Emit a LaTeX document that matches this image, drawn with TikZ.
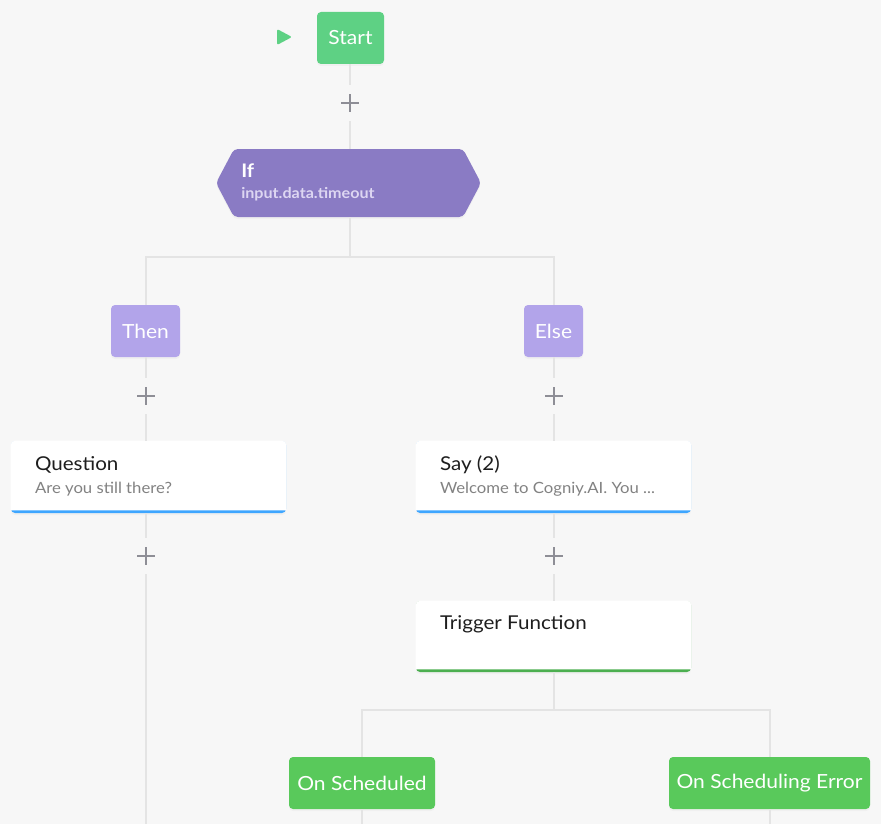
\documentclass[tikz,border=0pt]{standalone}
\usepackage{fontspec}
\setmainfont{Lato}[FakeStretch=1.08]
\usetikzlibrary{calc,shadows}
\definecolor{bg}{HTML}{F7F7F7}
\definecolor{wire}{HTML}{E4E4E4}
\definecolor{plusgray}{HTML}{8E8E96}
\definecolor{startgreen}{HTML}{5ED184}
\definecolor{evgreen}{HTML}{59C95B}
\definecolor{fngreen}{HTML}{4CAF50}
\definecolor{ifpurple}{HTML}{8A7BC4}
\definecolor{ifsub}{HTML}{DDD6F2}
\definecolor{branchpurple}{HTML}{B2A4EA}
\definecolor{sayblue}{HTML}{3EA6FF}
\definecolor{titletext}{HTML}{1E1E1E}
\definecolor{subtext}{HTML}{828282}
\begin{document}
\begin{tikzpicture}[x=0.75pt,y=-0.75pt,
  wireline/.style={draw=wire,line width=1.5pt},
  softshadow/.style={drop shadow={opacity=0.06,shadow xshift=0pt,shadow yshift=-1.5pt}},
  pill/.style={rounded corners=3pt,text=white,inner sep=0pt,font=\fontsize{14.6}{17}\selectfont,softshadow},
  startbox/.style={pill,fill=startgreen,minimum width=50.25pt,minimum height=39pt},
  branchbox/.style={pill,fill=branchpurple,minimum height=39pt},
  eventbox/.style={pill,fill=evgreen,minimum height=39pt},
  card/.style={rounded corners=3pt,minimum width=206.25pt,minimum height=54pt,inner sep=0pt,softshadow},
  cardtitle/.style={anchor=west,text=titletext,inner sep=0pt,font=\fontsize{14.3}{16}\selectfont},
  cardsub/.style={anchor=west,text=subtext,inner sep=0pt,font=\fontsize{11.6}{14}\selectfont},
  plusnode/.style={minimum width=20pt,minimum height=27pt,inner sep=0pt,
    path picture={\draw[plusgray,line width=1.4pt]
      ($(path picture bounding box.center)+(-9,0)$) -- ($(path picture bounding box.center)+(9,0)$)
      ($(path picture bounding box.center)+(0,-9)$) -- ($(path picture bounding box.center)+(0,9)$);}},
]
% canvas
\fill[bg] (0,0) rectangle (881,824);
\useasboundingbox (0,0) rectangle (881,824);

% fork points and open ends of the flow lines
\coordinate (forkA) at (350,257);
\coordinate (forkB) at (554,710);
\coordinate (endQ) at (146,824);
\coordinate (endS) at (362,824);
\coordinate (endE) at (770,824);

% start
\node[startbox] (start) at (350.5,38) {Start};
\fill[startgreen,rounded corners=1.5pt] (277,29) -- (292,37) -- (277,45) -- cycle;

\node[plusnode] (p1) at (350,103) {};

% if block (hexagon)
\node[minimum width=198.75pt,minimum height=51pt,inner sep=0pt] (if) at (348.5,183) {};
\fill[ifpurple,rounded corners=3pt,softshadow]
  (216,183) -- (234,149) -- (463,149) -- (481,183) -- (463,217) -- (234,217) -- cycle;
\node[anchor=west,text=white,inner sep=0pt,font=\bfseries\fontsize{14}{16}\selectfont] (iftitle) at (241,171) {If};
\node[anchor=west,text=ifsub,inner sep=0pt,font=\bfseries\fontsize{11.2}{13}\selectfont] (ifsubtitle) at (241,194) {input.data.timeout};

% branches
\node[branchbox,minimum width=51.75pt] (then) at (145.5,331) {Then};
\node[branchbox,minimum width=44.25pt] (else) at (553.5,331) {Else};

\node[plusnode] (p2) at (146,396) {};
\node[plusnode] (p3) at (554,396) {};

% question card
\node[card,fill=sayblue] (question) at (148.5,477) {};
\fill[white,rounded corners=3pt] (question.north west) -- (question.north east) -- ($(question.south east)+(0,-3)$)
  [sharp corners] -- ($(question.south east)+(0,-3)$) -- ($(question.south west)+(0,-3)$) [rounded corners=3pt] -- cycle;
\node[cardtitle] (qtitle) at ($(question.west)+(24,-12)$) {Question};
\node[cardsub] (qsub) at ($(question.west)+(24,12)$) {Are you still there?};

% say card
\node[card,fill=sayblue] (say) at (553.5,477) {};
\fill[white,rounded corners=3pt] (say.north west) -- (say.north east) -- ($(say.south east)+(0,-3)$)
  [sharp corners] -- ($(say.south east)+(0,-3)$) -- ($(say.south west)+(0,-3)$) [rounded corners=3pt] -- cycle;
\node[cardtitle] (stitle) at ($(say.west)+(24,-12)$) {Say (2)};
\node[cardsub] (ssub) at ($(say.west)+(24,12)$) {Welcome to Cogniy.AI. You ...};

\node[plusnode] (p4) at (146,556) {};
\node[plusnode] (p5) at (554,556) {};

% trigger function card
\node[card,fill=fngreen,minimum height=53.25pt] (trigger) at (553.5,636.5) {};
\fill[white,rounded corners=3pt] (trigger.north west) -- (trigger.north east) -- ($(trigger.south east)+(0,-3)$)
  [sharp corners] -- ($(trigger.south east)+(0,-3)$) -- ($(trigger.south west)+(0,-3)$) [rounded corners=3pt] -- cycle;
\node[cardtitle] (ttitle) at ($(trigger.north west)+(24,24)$) {Trigger Function};

% trigger outcomes
\node[eventbox,minimum width=109.5pt] (onsched) at (362,783) {On Scheduled};
\node[eventbox,minimum width=150.75pt] (onerr) at (769.5,783) {On Scheduling Error};

% flow lines, kept vertical along each column
\path[wireline]
  (start.south -| p1) -- (p1.north)
  (p1.south) -- (p1.south |- if.north)
  (forkA |- if.south) -- (forkA)
  (forkA) -| (p2.center |- then.north)
  (forkA) -| (p3.center |- else.north)
  (p2.center |- then.south) -- (p2.north)
  (p2.south) -- (p2.south |- question.north)
  (p3.center |- else.south) -- (p3.north)
  (p3.south) -- (p3.south |- say.north)
  (p4.center |- question.south) -- (p4.north)
  (p4.south) -- (endQ)
  (p5.center |- say.south) -- (p5.north)
  (p5.south) -- (p5.south |- trigger.north)
  (forkB |- trigger.south) -- (forkB)
  (forkB) -| (endS |- onsched.north)
  (forkB) -| (endE |- onerr.north)
  (endS |- onsched.south) -- (endS)
  (endE |- onerr.south) -- (endE);
\end{tikzpicture}
\end{document}
